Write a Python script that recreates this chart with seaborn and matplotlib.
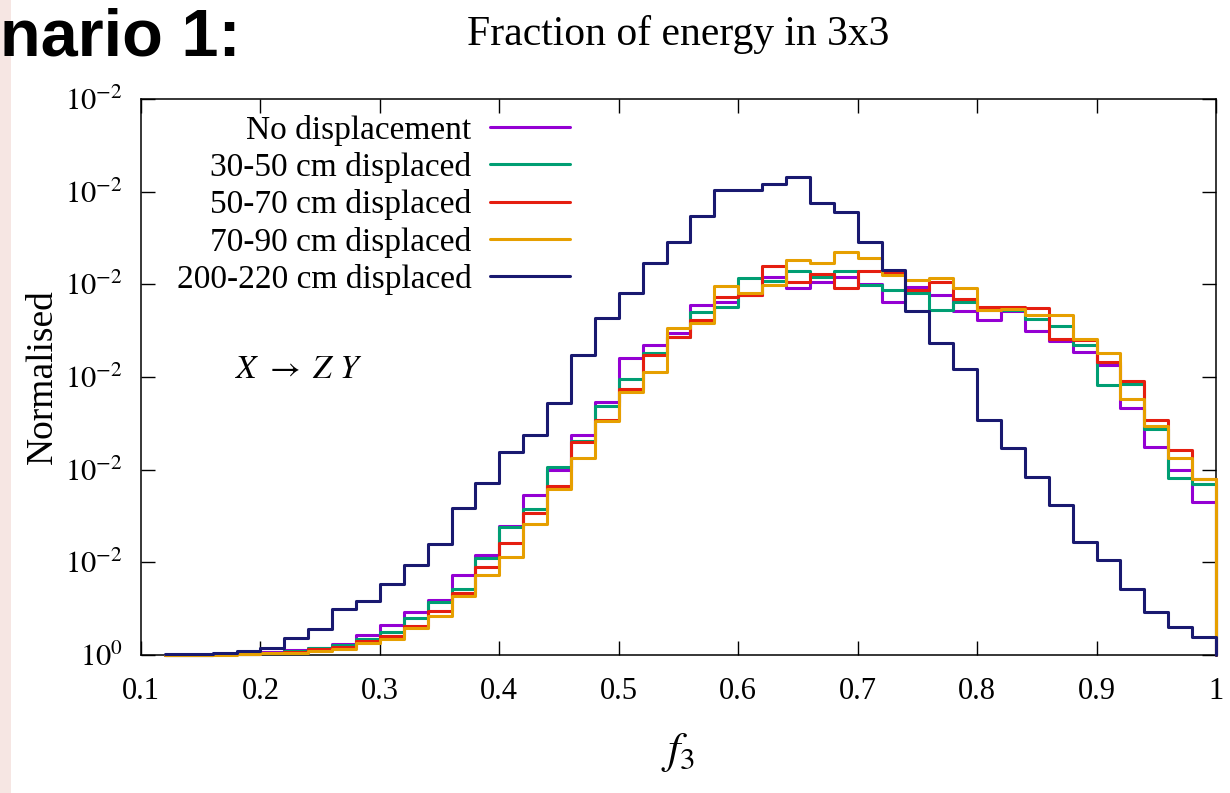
import numpy as np
import pandas as pd
import seaborn as sns
import matplotlib.pyplot as plt
from matplotlib.lines import Line2D
from matplotlib.patches import Rectangle

# histogram bin edges, 0.02 wide from 0.12 to 1.0
bin_edges = np.round(np.linspace(0.12, 1.0, 45), 2)

no_disp = [0.00003, 0.00005, 0.0001, 0.00015, 0.0003, 0.00054, 0.00079, 0.00115, 0.0022, 0.0032,
           0.0046, 0.0059, 0.0086, 0.0108, 0.0139, 0.0173, 0.0200, 0.0237, 0.0273, 0.0320,
           0.0335, 0.0348, 0.0378, 0.0381, 0.0389, 0.0408, 0.0396, 0.0402, 0.0408, 0.0400,
           0.0381, 0.0397, 0.0389, 0.0371, 0.0362, 0.0371, 0.0350, 0.0339, 0.0327, 0.0313,
           0.0267, 0.0225, 0.0200, 0.0165]
disp_30_50 = [0.00003, 0.00004, 0.0001, 0.00014, 0.00025, 0.00047, 0.00072, 0.00104, 0.0017, 0.00245,
              0.0040, 0.0057, 0.0071, 0.0105, 0.0138, 0.0158, 0.0203, 0.0231, 0.0269, 0.0298,
              0.0326, 0.0343, 0.0370, 0.0375, 0.0407, 0.0404, 0.0414, 0.0408, 0.0414, 0.0399,
              0.0394, 0.0391, 0.0372, 0.0381, 0.0372, 0.0372, 0.0363, 0.0355, 0.0334, 0.0291,
              0.0292, 0.0244, 0.0191, 0.0185]
disp_50_70 = [0.00002, 0.00003, 0.00006, 0.0001, 0.0002, 0.00036, 0.00061, 0.0009, 0.0015, 0.00205,
              0.0031, 0.0048, 0.0067, 0.0095, 0.0121, 0.0153, 0.0182, 0.0230, 0.0254, 0.0287,
              0.0324, 0.0343, 0.0362, 0.0386, 0.0389, 0.0420, 0.0402, 0.0411, 0.0396, 0.0414,
              0.0413, 0.0394, 0.0403, 0.0384, 0.0376, 0.0376, 0.0374, 0.0341, 0.0340, 0.0316,
              0.0296, 0.0254, 0.0221, 0.0190]
disp_70_90 = [0.0, 0.00001, 0.00004, 0.00008, 0.00018, 0.00025, 0.00043, 0.00061, 0.00126, 0.0017,
              0.0029, 0.0042, 0.0064, 0.0086, 0.0106, 0.0141, 0.0179, 0.0213, 0.0252, 0.0284,
              0.0305, 0.0353, 0.0358, 0.0398, 0.0391, 0.0399, 0.0426, 0.0423, 0.0435, 0.0428,
              0.0410, 0.0405, 0.0407, 0.0396, 0.0372, 0.0373, 0.0367, 0.0367, 0.0341, 0.0326,
              0.0276, 0.0247, 0.0213, 0.0190]
disp_200_220 = [0.00008, 0.00008, 0.00025, 0.00043, 0.00075, 0.0018, 0.0028, 0.0050, 0.0058, 0.0077,
                0.0097, 0.0120, 0.0159, 0.0186, 0.0219, 0.0237, 0.0272, 0.0324, 0.0364, 0.0391,
                0.0423, 0.0446, 0.0474, 0.0502, 0.0502, 0.0508, 0.0516, 0.0488, 0.0478, 0.0446,
                0.0415, 0.0371, 0.0337, 0.0309, 0.0254, 0.0223, 0.0192, 0.0162, 0.0122, 0.0103,
                0.0071, 0.0046, 0.0030, 0.0019]

labels = ['No displacement', '30-50 cm displaced', '50-70 cm displaced',
          '70-90 cm displaced', '200-220 cm displaced']
colors = ['#9400d3', '#009e73', '#e51e10', '#e69f00', '#191970']
series = [no_disp, disp_30_50, disp_50_70, disp_70_90, disp_200_220]

xticks = [0.1, 0.2, 0.3, 0.4, 0.5, 0.6, 0.7, 0.8, 0.9, 1.0]
xtick_labels = ['0.1', '0.2', '0.3', '0.4', '0.5', '0.6', '0.7', '0.8', '0.9', '1']
yticks = [0.0, 0.01, 0.02, 0.03, 0.04, 0.05, 0.06]
ytick_labels = [r'$10^{0}$'] + [r'$10^{-2}$'] * 6

sns.set_theme(style='ticks')
plt.rcParams['font.family'] = ['Liberation Serif', 'DejaVu Serif']
plt.rcParams['mathtext.fontset'] = 'stix'
plt.rcParams['text.color'] = 'black'
plt.rcParams['axes.labelcolor'] = 'black'

# long table, one step outline per sample, closing down to zero at f3 = 1
frames = []
for lab, vals in zip(labels, series):
    xs = list(bin_edges) + [bin_edges[-1]]
    ys = list(vals) + [vals[-1], 0.0]
    frames.append(pd.DataFrame({'f3': xs, 'norm': ys, 'sample': lab}))
df = pd.concat(frames, ignore_index=True)

fig = plt.figure(figsize=(12.3, 7.93), dpi=100)
ax = fig.add_axes([141 / 1230, 138 / 793, 1075 / 1230, 556 / 793])

sns.lineplot(data=df, x='f3', y='norm', hue='sample', hue_order=labels,
             palette=dict(zip(labels, colors)), estimator=None, sort=False,
             drawstyle='steps-post', lw=2.2, legend=False, ax=ax)
for ln in ax.lines:
    ln.set_clip_on(False)
    ln.set_zorder(3)

ax.set_xlim(0.1, 1.0)
ax.set_ylim(0, 0.06)
ax.set_xticks(xticks)
ax.set_xticklabels(xtick_labels)
ax.set_yticks(yticks)
ax.set_yticklabels(ytick_labels)
ax.tick_params(direction='in', length=10, width=1, top=True, right=True,
               labelsize=22, colors='black')
ax.tick_params(axis='x', pad=16)
ax.tick_params(axis='y', pad=13)
for sp in ax.spines.values():
    sp.set_linewidth(1.1)
    sp.set_color('black')

ax.set_xlabel(r'$f_3$', fontsize=32, labelpad=18)
ax.set_ylabel('Normalised', fontsize=27, labelpad=4)

handles = [Line2D([], [], color=c, lw=2.2) for c in colors]
ax.legend(handles, labels, loc='upper right', bbox_to_anchor=(0.399, 0.972),
          markerfirst=False, frameon=False, fontsize=24, handlelength=2.4,
          handletextpad=0.55, labelspacing=0.19, borderpad=0, borderaxespad=0)

ax.text(0.087, 0.513, r'$X\ \rightarrow\ Z\ Y$', transform=ax.transAxes,
        fontsize=24, ha='left', va='center')

fig.text(678 / 1230, 1 - 35 / 793, 'Fraction of energy in 3x3', fontsize=30,
         ha='center', va='center')

# slide remnant: pink strip and cropped heading
fig.patches.append(Rectangle((0, 0), 11 / 1230, 1, transform=fig.transFigure,
                             facecolor='#f6e6e3', edgecolor='none', zorder=-1))
fig.text(0, 1 - 55 / 793, 'nario 1:', fontsize=48, fontweight='bold', color='black',
         family=['Liberation Sans', 'DejaVu Sans'], ha='left', va='baseline')

fig.savefig('out.png', dpi=100)
